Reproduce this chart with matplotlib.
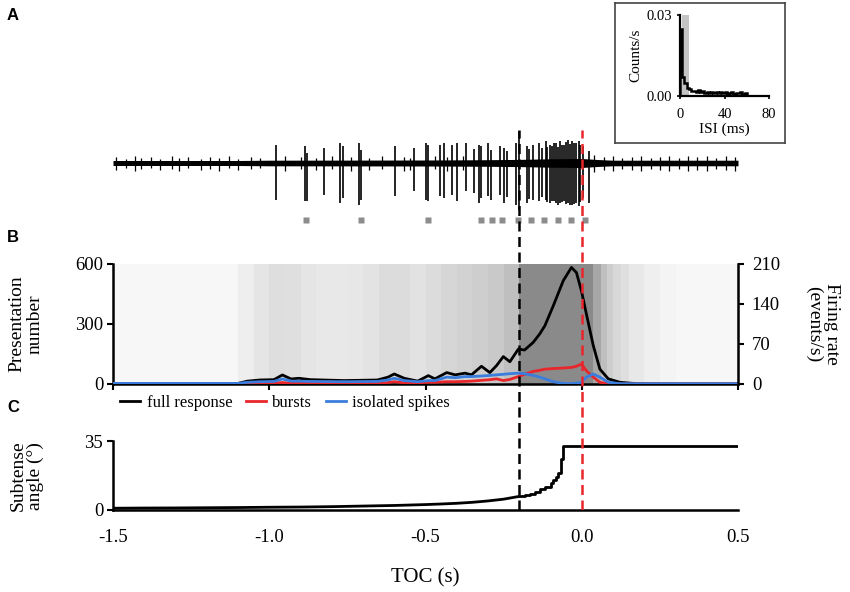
import matplotlib
matplotlib.use("Agg")
import matplotlib.pyplot as plt
from matplotlib.colors import LinearSegmentedColormap
from matplotlib.lines import Line2D
import numpy as np

plt.rcParams['font.family'] = ['Liberation Serif', 'DejaVu Serif']

# ---------------- data ----------------
# Panel A: spike trace (time s, amplitude relative to baseline, arbitrary units)
spike_t = [-0.977, -0.887, -0.880, -0.825, -0.774, -0.765, -0.712, -0.705, -0.599,
           -0.537, -0.500, -0.493, -0.454, -0.440, -0.414, -0.398, -0.372, -0.345,
           -0.328, -0.321, -0.301, -0.292, -0.262, -0.248, -0.240, -0.209, -0.202,
           -0.175, -0.168, -0.156, -0.136, -0.128, -0.116, -0.110, -0.103, -0.095,
           -0.088, -0.083, -0.077, -0.070, -0.064, -0.056, -0.050, -0.043, -0.037,
           -0.030, -0.024, -0.017, -0.010, -0.005, 0.003, 0.023]
spike_up = [18, 17, 10, 15, 20, 17, 20, 13, 17, 15, 20, 18, 18, 20, 18, 20, 20, 14,
            18, 17, 20, 13, 17, 15, 12, 20, 32, 17, 14, 18, 20, 15, 22, 16, 18, 17,
            20, 20, 16, 22, 18, 18, 21, 23, 19, 22, 20, 20, 22, 18, 17, 12]
spike_dn = [-37, -38, -38, -32, -40, -35, -42, -37, -33, -28, -37, -38, -33, -35, -32,
            -38, -28, -30, -40, -35, -33, -37, -32, -40, -34, -42, -47, -40, -36, -37,
            -38, -34, -37, -39, -40, -38, -38, -40, -42, -40, -39, -38, -41, -40, -42,
            -42, -41, -40, -43, -39, -35, -40]
small_t = [-1.49, -1.46, -1.43, -1.41, -1.38, -1.35, -1.31, -1.29, -1.26, -1.22, -1.19,
           -1.16, -1.13, -1.10, -1.06, -1.03, -0.95, -0.90, -0.85, -0.80, -0.74, -0.68,
           -0.64, -0.57, -0.55, -0.47, -0.43, -0.38, 0.04, 0.07, 0.10, 0.13, 0.16, 0.19,
           0.22, 0.25, 0.28, 0.31, 0.34, 0.37, 0.40, 0.43, 0.46, 0.49]
small_up = [6, 4, 7, 5, 6, 4, 7, 5, 6, 4, 6, 5, 7, 4, 6, 5, 7, 6, 5, 7, 6, 5, 7, 6, 5,
            7, 6, 7, 8, 6, 7, 5, 6, 7, 5, 6, 7, 5, 7, 6, 7, 5, 7, 6]
small_dn = [-7, -5, -8, -6, -5, -7, -6, -8, -5, -7, -6, -8, -5, -7, -6, -5, -8, -6, -7,
            -6, -8, -7, -6, -8, -7, -6, -8, -7, -9, -7, -8, -6, -7, -8, -6, -7, -8, -6,
            -8, -7, -8, -6, -7, -8]
noise_t = [-1.5, -1.1, -1.0, -0.5, -0.3, -0.2, -0.1, 0.0, 0.05, 0.1, 0.5]
noise_amp = [2.5, 2.5, 2.8, 3, 3.3, 3.6, 4.2, 4.5, 3.5, 2.8, 2.8]
burst_t = [-0.881, -0.705, -0.493, -0.324, -0.288, -0.255, -0.205, -0.162,
           -0.122, -0.076, -0.036, 0.010]

# Inset: ISI histogram
isi_edges = [0, 2, 4, 6, 8, 10, 12, 14, 16, 18, 20, 22, 24, 26, 28, 30, 32, 34, 36, 38,
             40, 42, 44, 46, 48, 50, 52, 54, 56, 58, 60, 80]
isi_counts = [0.025, 0.007, 0.005, 0.003, 0.0025, 0.002, 0.0018, 0.0015, 0.0022,
              0.0015, 0.0018, 0.0012, 0.0015, 0.0012, 0.0016, 0.001, 0.0015, 0.0012,
              0.0016, 0.001, 0.0013, 0.0009, 0.0011, 0.0016, 0.0008, 0.0012, 0.001,
              0.0013, 0.0009, 0.0011, 0.0]
isi_burst_window = [1.5, 8.4]

# Panel B: raster density (fraction of area covered by spike dots)
raster_edges = [-1.5, -1.1, -1.05, -1.0, -0.95, -0.9, -0.85, -0.8, -0.75, -0.7, -0.65,
                -0.6, -0.55, -0.5, -0.45, -0.4, -0.35, -0.3, -0.25, -0.2, 0.035, 0.06,
                0.08, 0.1, 0.125, 0.15, 0.2, 0.25, 0.3, 0.5]
raster_density = [0.07, 0.15, 0.22, 0.28, 0.27, 0.22, 0.2, 0.2, 0.21, 0.24, 0.3, 0.3,
                  0.25, 0.3, 0.35, 0.38, 0.42, 0.46, 0.55, 1.0, 0.75, 0.55, 0.42, 0.33,
                  0.27, 0.2, 0.14, 0.1, 0.07]

# Panel B: firing rates (events/s)
rate_t = [-1.5, -1.1, -1.07, -1.03, -0.985, -0.958, -0.93, -0.905, -0.868, -0.76,
          -0.654, -0.62, -0.6, -0.568, -0.525, -0.491, -0.47, -0.432, -0.405, -0.373,
          -0.353, -0.321, -0.294, -0.273, -0.251, -0.23, -0.203, -0.183, -0.155,
          -0.134, -0.118, -0.091, -0.059, -0.033, -0.017, -0.001, 0.015, 0.037, 0.058,
          0.085, 0.122, 0.175, 0.25, 0.5]
rate_full = [1, 1, 5, 7, 7.6, 15.8, 8.8, 10, 7.6, 6, 7, 12, 17.5, 10, 5, 14.6, 9, 20,
             16, 19, 16, 31, 20, 32, 48, 39, 61, 59.5, 73, 88, 102, 137, 181, 204, 195,
             163, 122, 67, 26, 9, 3, 0.6, 0.3, 0.3]
rate_burst = [0, 0, 1, 1.5, 1.5, 2.5, 1.5, 1.5, 1.5, 1.5, 1.5, 2.5, 4, 2, 2, 3, 3, 4,
              4, 4.5, 5, 6.4, 7.5, 9, 6, 8, 13, 17, 22, 24, 26, 27, 28, 29, 31, 35, 23,
              12, 3, 0.5, 0, 0, 0, 0]
rate_iso = [1, 1, 3, 4, 4.5, 8.8, 5, 5, 4.5, 4, 4.5, 7, 10, 6, 4, 6, 6, 12, 11, 13, 13,
            14, 15, 16, 17, 18, 19, 18, 15, 12, 9, 4, 1, 0.6, 1.5, 3, 12, 17.5, 12, 3,
            0.6, 0.5, 0.5, 0.5]

# Panel C: subtense angle (deg); smooth part, then frame-stepped part
angle_t = [-1.5, -1.4, -1.3, -1.2, -1.1, -1.0, -0.9, -0.8, -0.7, -0.6, -0.5, -0.45,
           -0.4, -0.35, -0.3, -0.25, -0.2]
angle_deg = [0.9, 1.0, 1.05, 1.15, 1.25, 1.4, 1.5, 1.7, 2.0, 2.3, 2.75, 3.05, 3.4, 3.9,
             4.6, 5.5, 6.9]
step_t = [-0.2, -0.183, -0.167, -0.15, -0.133, -0.117, -0.1, -0.092, -0.083, -0.075,
          -0.067, -0.06, 0.5]
step_deg = [6.9, 7.5, 8.3, 9.2, 10.4, 11.9, 13.7, 15.0, 16.6, 18.6, 25.9, 32.4, 32.4]

time_ticks = [-1.5, -1.0, -0.5, 0.0, 0.5]
time_labels = ['-1.5', '-1.0', '-0.5', '0.0', '0.5']

# ---------------- layout ----------------
W, H = 850, 592
fig = plt.figure(figsize=(W / 100, H / 100), dpi=100)


def box(x0, y0, x1, y1):
    return [x0 / W, 1 - y1 / H, (x1 - x0) / W, (y1 - y0) / H]


RED = '#E8262B'
BLUE = '#3B7DDD'
TICKFS = 13.5
XL = (-1.5, 0.5)

# Panel A trace
ax_a = fig.add_axes(box(113, 120, 738, 240))
ax_a.set_xlim(*XL)
ax_a.set_ylim(-77, 43)
ax_a.set_axis_off()
ax_a.fill_between(noise_t, [-a for a in noise_amp], noise_amp, color='black', lw=0)
ax_a.vlines(small_t, small_dn, small_up, color='black', lw=0.9)
ax_a.vlines(spike_t, spike_dn, spike_up, color='black', lw=1.2)
ax_a.plot(burst_t, [-57] * len(burst_t), 's', color='#8c8c8c', ms=4.3, mec='none')

# Inset
ax_box = fig.add_axes(box(615, 3, 785, 143))
ax_box.set_xticks([])
ax_box.set_yticks([])
for s in ax_box.spines.values():
    s.set_color('#444444')
    s.set_linewidth(1.2)

ax_in = fig.add_axes(box(680, 15, 769, 96))
ax_in.patch.set_visible(False)
ax_in.axvspan(isi_burst_window[0], isi_burst_window[1], ymax=1, color='#c4c4c4', lw=0)
ax_in.stairs(isi_counts, isi_edges, color='black', lw=1.8, baseline=0)
ax_in.set_xlim(0, 80)
ax_in.set_ylim(0, 0.03)
ax_in.set_xticks([0, 40, 80])
ax_in.set_xticklabels(['0', '40', '80'], fontsize=10.5)
ax_in.set_yticks([0, 0.03])
ax_in.set_yticklabels(['0.00', '0.03'], fontsize=10.5)
ax_in.spines['top'].set_visible(False)
ax_in.spines['right'].set_visible(False)
for s in ('left', 'bottom'):
    ax_in.spines[s].set_linewidth(1.6)
ax_in.tick_params(axis='y', length=2.5, width=1.2, pad=3)
ax_in.tick_params(axis='x', length=2.5, width=1.2, pad=6)
ax_in.set_xlabel('ISI (ms)', fontsize=11, labelpad=1)
ax_in.set_ylabel('Counts/s', fontsize=11, labelpad=3)

# Panel B
ax_b = fig.add_axes(box(113, 264, 738, 384))
cmap = LinearSegmentedColormap.from_list('rast', ['#ffffff', '#8a8a8a'])
ax_b.pcolormesh(raster_edges, [0, 600], np.array([raster_density]), cmap=cmap,
                vmin=0, vmax=1, shading='flat')
ax_b.set_xlim(*XL)
ax_b.set_ylim(0, 600)
ax_b.set_yticks([0, 300, 600])
ax_b.set_yticklabels(['0', '300', '600'], fontsize=TICKFS)
ax_b.set_xticks(time_ticks)
ax_b.set_xticklabels([])
ax_b.spines['top'].set_visible(False)
ax_b.spines['right'].set_visible(False)
for s in ('left', 'bottom'):
    ax_b.spines[s].set_linewidth(1.8)
ax_b.tick_params(length=4, width=1.5, pad=3)

ax_b2 = ax_b.twinx()
ax_b2.plot(rate_t, rate_full, color='black', lw=2)
ax_b2.plot(rate_t, rate_burst, color=RED, lw=2)
ax_b2.plot(rate_t, rate_iso, color=BLUE, lw=2)
ax_b2.set_xlim(*XL)
ax_b2.set_ylim(0, 210)
ax_b2.set_yticks([0, 70, 140, 210])
ax_b2.set_yticklabels(['0', '70', '140', '210'], fontsize=TICKFS)
for s in ('top', 'left', 'bottom'):
    ax_b2.spines[s].set_visible(False)
ax_b2.spines['right'].set_linewidth(1.8)
ax_b2.tick_params(length=4, width=1.5, pad=6)

# Legend
handles = [Line2D([], [], color='black', lw=2),
           Line2D([], [], color=RED, lw=2),
           Line2D([], [], color=BLUE, lw=2)]
fig.legend(handles, ['full response', 'bursts', 'isolated spikes'],
           loc='center left', bbox_to_anchor=(120 / W, 1 - 403 / H), ncol=3,
           frameon=False, fontsize=12, handlelength=1.2, handletextpad=0.4,
           columnspacing=0.8, borderaxespad=0, borderpad=0)

# Panel C
ax_c = fig.add_axes(box(113, 441, 738, 510))
ax_c.plot(angle_t, angle_deg, color='black', lw=2, solid_capstyle='butt')
ax_c.plot(step_t, step_deg, color='black', lw=2, drawstyle='steps-post')
ax_c.set_xlim(*XL)
ax_c.set_ylim(0, 35)
ax_c.set_yticks([0, 35])
ax_c.set_yticklabels(['0', '35'], fontsize=TICKFS)
ax_c.set_xticks(time_ticks)
ax_c.set_xticklabels(time_labels, fontsize=TICKFS)
ax_c.spines['top'].set_visible(False)
ax_c.spines['right'].set_visible(False)
for s in ('left', 'bottom'):
    ax_c.spines[s].set_linewidth(1.8)
ax_c.tick_params(axis='y', length=4, width=1.5, pad=3)
ax_c.tick_params(axis='x', length=0, width=1.5, pad=14)

# Dashed reference lines across panels
ax_o = fig.add_axes(box(113, 130, 738, 510))
ax_o.set_xlim(*XL)
ax_o.set_ylim(0, 1)
ax_o.set_axis_off()
ax_o.plot([-0.2, -0.2], [0, 1], color='black', lw=1.8, ls=(0, (4, 2.2)))
ax_o.plot([0.0, 0.0], [0, 1], color=RED, lw=1.8, ls=(0, (4, 2.2)))

# Labels
fig.text(26 / W, 1 - 324 / H, 'Presentation\nnumber', rotation=90, ha='center',
         va='center', fontsize=14, linespacing=1.05, multialignment='center')
fig.text(823 / W, 1 - 324 / H, 'Firing rate\n(events/s)', rotation=270, ha='center',
         va='center', fontsize=14, linespacing=1.05, multialignment='center')
fig.text(27 / W, 1 - 476 / H, 'Subtense\nangle (°)', rotation=90, ha='center',
         va='center', fontsize=14, linespacing=1.05, multialignment='center')
fig.text(425 / W, 1 - 578 / H, 'TOC (s)', ha='center', va='center', fontsize=15)

for lbl, (x, y) in zip(['A', 'B', 'C'], [(13, 16), (13, 238), (13, 407)]):
    fig.text(x / W, 1 - y / H, lbl, ha='center', va='center', fontsize=12,
             fontweight='bold', family=['Liberation Sans', 'DejaVu Sans'])

fig.savefig('out.png', dpi=100)
